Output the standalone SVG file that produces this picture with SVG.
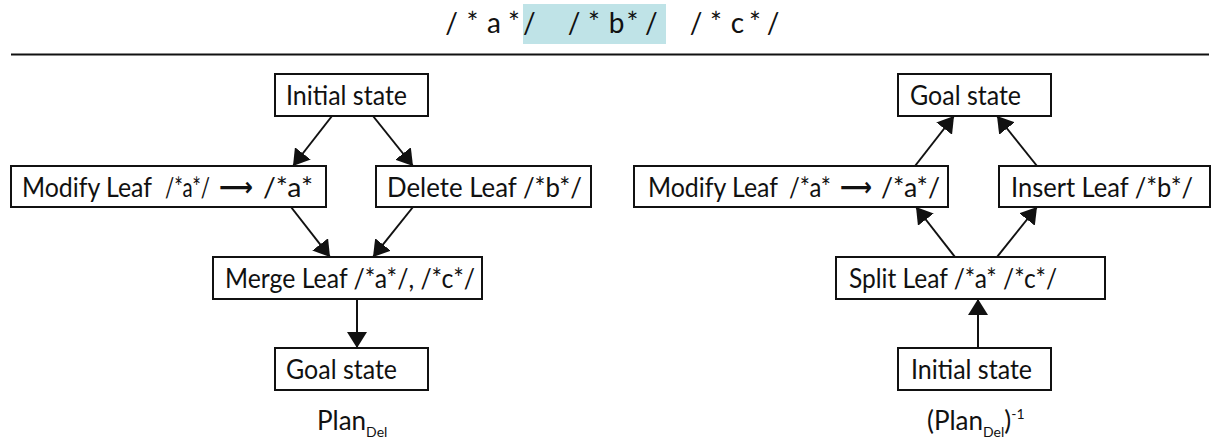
<svg xmlns="http://www.w3.org/2000/svg" width="1213" height="439" viewBox="0 0 1213 439">
  <style>
    .box { fill: #ffffff; stroke: #111111; stroke-width: 2; }
    .lbl { font-family: Lato, "Liberation Sans", sans-serif; font-size: 26px; fill: #111111; }
    .sub { font-family: Lato, "Liberation Sans", sans-serif; font-size: 14px; fill: #111111; }
    .code { font-family: Lato, "Liberation Sans", sans-serif; font-size: 28px; fill: #111111; text-anchor: middle; }
    .arr { font-family: "DejaVu Sans", sans-serif; font-size: 26px; font-weight: bold; fill: #111111; }
    .edge { stroke: #111111; stroke-width: 2; fill: none; marker-end: url(#ah); }
  </style>
  <defs>
    <marker id="ah" markerUnits="userSpaceOnUse" markerWidth="16" markerHeight="20" viewBox="0 0 16 20" refX="16" refY="10" orient="auto">
      <path d="M0,0 L16,10 L0,20 Z" fill="#111111"/>
    </marker>
  </defs>
  <rect width="1213" height="439" fill="#ffffff"/>

  <!-- source line with the highlighted comment span -->
  <g id="source">
    <rect x="523" y="4" width="143" height="40" fill="#bfe3e7"/>
    <text class="code" y="33">
      <tspan x="451.5">/</tspan><tspan x="472.5">*</tspan><tspan x="494">a</tspan><tspan x="514">*</tspan><tspan x="533">/</tspan>
      <tspan x="574">/</tspan><tspan x="594">*</tspan><tspan x="616.5">b</tspan><tspan x="632.5">*</tspan><tspan x="655">/</tspan>
      <tspan x="696">/</tspan><tspan x="716">*</tspan><tspan x="737.5">c</tspan><tspan x="755">*</tspan><tspan x="773">/</tspan>
    </text>
    <line x1="11" y1="54.5" x2="1209" y2="54.5" stroke="#111111" stroke-width="2"/>
  </g>

  <!-- connectors -->
  <g id="connectors">
    <line class="edge" x1="332" y1="116" x2="293" y2="166"/>
    <line class="edge" x1="373" y1="116" x2="413" y2="166"/>
    <line class="edge" x1="291" y1="207" x2="330" y2="257"/>
    <line class="edge" x1="413" y1="207" x2="373" y2="257"/>
    <line class="edge" x1="357" y1="299" x2="357" y2="348"/>

    <line class="edge" x1="978" y1="348" x2="978" y2="299"/>
    <line class="edge" x1="955" y1="257" x2="916" y2="207"/>
    <line class="edge" x1="997" y1="257" x2="1037" y2="207"/>
    <line class="edge" x1="915" y1="166" x2="954" y2="116"/>
    <line class="edge" x1="1037" y1="166" x2="997" y2="116"/>
  </g>

  <!-- Plan_Del -->
  <g id="plan-initial">
    <rect class="box" x="275" y="74" width="153" height="42"/>
    <text class="lbl" x="286" y="105" textLength="121" lengthAdjust="spacingAndGlyphs">Initial state</text>
  </g>
  <g id="plan-modify">
    <rect class="box" x="11" y="166" width="315" height="41"/>
    <text class="lbl" y="197"><tspan x="22" textLength="130" lengthAdjust="spacingAndGlyphs">Modify Leaf</tspan><tspan x="165" textLength="45" lengthAdjust="spacingAndGlyphs">/*a*/</tspan></text>
    <text class="arr" x="219" y="196" textLength="34" lengthAdjust="spacingAndGlyphs">⟶</text>
    <text class="lbl" x="263" y="197" textLength="50" lengthAdjust="spacingAndGlyphs">/*a*</text>
  </g>
  <g id="plan-delete">
    <rect class="box" x="376" y="166" width="215" height="41"/>
    <text class="lbl" x="387" y="197" textLength="195" lengthAdjust="spacingAndGlyphs">Delete Leaf /*b*/</text>
  </g>
  <g id="plan-merge">
    <rect class="box" x="213" y="257" width="269" height="42"/>
    <text class="lbl" x="225" y="288" textLength="250" lengthAdjust="spacingAndGlyphs">Merge Leaf /*a*/, /*c*/</text>
  </g>
  <g id="plan-goal">
    <rect class="box" x="275" y="348" width="153" height="42"/>
    <text class="lbl" x="286" y="379" textLength="111" lengthAdjust="spacingAndGlyphs">Goal state</text>
  </g>
  <g id="plan-caption">
    <text class="lbl" x="317" y="430">Plan<tspan class="sub" dy="7">Del</tspan></text>
  </g>

  <!-- inverse plan -->
  <g id="inv-goal">
    <rect class="box" x="898" y="74" width="153" height="42"/>
    <text class="lbl" x="910" y="105" textLength="111" lengthAdjust="spacingAndGlyphs">Goal state</text>
  </g>
  <g id="inv-modify">
    <rect class="box" x="634" y="166" width="314" height="41"/>
    <text class="lbl" y="197"><tspan x="648" textLength="130" lengthAdjust="spacingAndGlyphs">Modify Leaf</tspan><tspan x="789" textLength="42" lengthAdjust="spacingAndGlyphs">/*a*</tspan></text>
    <text class="arr" x="840" y="196" textLength="32" lengthAdjust="spacingAndGlyphs">⟶</text>
    <text class="lbl" x="881" y="197" textLength="59" lengthAdjust="spacingAndGlyphs">/*a*/</text>
  </g>
  <g id="inv-insert">
    <rect class="box" x="999" y="166" width="211" height="41"/>
    <text class="lbl" x="1011" y="197" textLength="182" lengthAdjust="spacingAndGlyphs">Insert Leaf /*b*/</text>
  </g>
  <g id="inv-split">
    <rect class="box" x="836" y="257" width="269" height="42"/>
    <text class="lbl" x="849" y="288" textLength="208" lengthAdjust="spacingAndGlyphs">Split Leaf /*a* /*c*/</text>
  </g>
  <g id="inv-initial">
    <rect class="box" x="898" y="348" width="153" height="42"/>
    <text class="lbl" x="911" y="379" textLength="121" lengthAdjust="spacingAndGlyphs">Initial state</text>
  </g>
  <g id="inv-caption">
    <text class="lbl" x="927" y="430">(Plan<tspan class="sub" dy="7">Del</tspan><tspan dy="-7">)</tspan><tspan class="sub" dy="-11">-1</tspan></text>
  </g>
</svg>
